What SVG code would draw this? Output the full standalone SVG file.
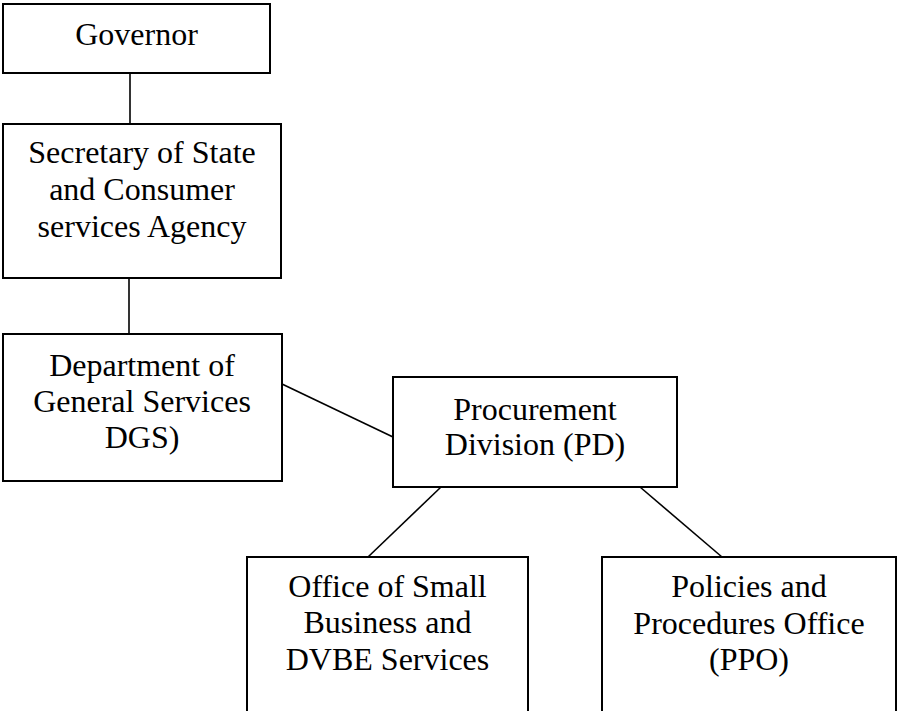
<svg xmlns="http://www.w3.org/2000/svg" width="897" height="711" viewBox="0 0 897 711">
<style>
.box{fill:#fff;stroke:#000;stroke-width:2}
.ln{stroke:#000;stroke-width:1.6;fill:none}
text{font-family:"Liberation Serif","Times New Roman",serif;font-size:32px;fill:#000;text-anchor:middle}
</style>
<rect width="897" height="711" fill="#fff"/>
<g id="connectors">
<line class="ln" x1="130" y1="73" x2="130" y2="124"/>
<line class="ln" x1="129" y1="278" x2="129" y2="334"/>
<line class="ln" x1="282" y1="384" x2="393" y2="437"/>
<line class="ln" x1="441" y1="487" x2="368" y2="557"/>
<line class="ln" x1="640" y1="487" x2="722" y2="557"/>
</g>
<g id="governor">
<rect class="box" x="3" y="4" width="267" height="69"/>
<text x="136.5" y="45">Governor</text>
</g>
<g id="secretary">
<rect class="box" x="3" y="124" width="278" height="154"/>
<text x="142" y="163">Secretary of State</text>
<text x="142" y="200">and Consumer</text>
<text x="142" y="237">services Agency</text>
</g>
<g id="dgs">
<rect class="box" x="3" y="334" width="279" height="147"/>
<text x="142" y="376">Department of</text>
<text x="142" y="412">General Services</text>
<text x="142" y="448">DGS)</text>
</g>
<g id="pd">
<rect class="box" x="393" y="377" width="284" height="110"/>
<text x="535" y="420">Procurement</text>
<text x="535" y="455">Division (PD)</text>
</g>
<g id="osb">
<rect class="box" x="247" y="557" width="281" height="170"/>
<text x="387.5" y="597">Office of Small</text>
<text x="387.5" y="633">Business and</text>
<text x="387.5" y="670">DVBE Services</text>
</g>
<g id="ppo">
<rect class="box" x="602" y="557" width="294" height="170"/>
<text x="749" y="597">Policies and</text>
<text x="749" y="634">Procedures Office</text>
<text x="749" y="670">(PPO)</text>
</g>
</svg>
